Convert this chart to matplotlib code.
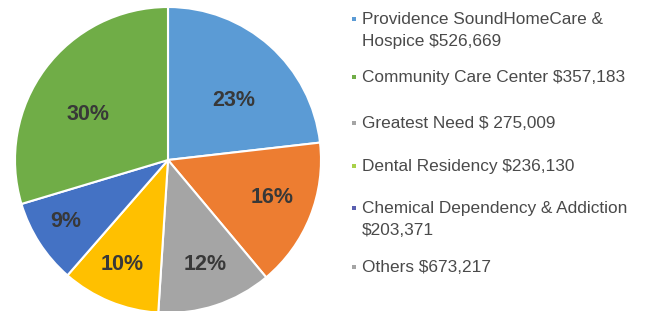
import matplotlib
matplotlib.use("Agg")
import numpy as np
import matplotlib.pyplot as plt
from matplotlib.patches import Rectangle

categories = ["Providence SoundHomeCare &\nHospice $526,669",
              "Community Care Center $357,183",
              "Greatest Need $ 275,009",
              "Dental Residency $236,130",
              "Chemical Dependency & Addiction\n$203,371",
              "Others $673,217"]
values = [526669, 357183, 275009, 236130, 203371, 673217]
slice_colors = ["#5B9BD5", "#ED7D31", "#A5A5A5", "#FFC000", "#4472C4", "#70AD47"]
marker_colors = ["#5B9BD5", "#70AD47", "#A5A5A5", "#A9D14A", "#5A5FB0", "#A5A5A5"]
# label placement (layout): distance from centre (radius units), angle offset (deg)
label_dist = [0.59, 0.72, 0.71, 0.73, 0.77, 0.61]
label_dang = [-5.0, 3.0, 2.0, -1.6, -3.0, 5.7]

W, H = 647, 311
fig = plt.figure(figsize=(W / 100, H / 100), dpi=100)
plt.rcParams['font.family'] = ['Liberation Sans', 'DejaVu Sans']

cx, cy, r = 168, 160, 153
ax = fig.add_axes([(cx - r) / W, (H - cy - r) / H, 2 * r / W, 2 * r / H])
wedges, texts, autotexts = ax.pie(
    values, colors=slice_colors, startangle=90, counterclock=False,
    autopct=lambda p: f"{p:.0f}%", pctdistance=0.6,
    wedgeprops=dict(edgecolor="white", linewidth=1.5),
    textprops=dict(color="#383838", fontsize=15.5, fontweight="bold"))
for w, t, d, da in zip(wedges, autotexts, label_dist, label_dang):
    th = np.deg2rad((w.theta1 + w.theta2) / 2 + da)
    t.set_position((d * np.cos(th), d * np.sin(th)))
    t.set_va("center_baseline")
ax.set_xlim(-1, 1)
ax.set_ylim(-1, 1)
ax.set_aspect("equal")
ax.axis("off")

# legend drawn manually
ys = [20, 78, 124, 167, 209, 268]
for lab, col, y in zip(categories, marker_colors, ys):
    fig.text(362 / W, 1 - (y - 8) / H, lab, fontsize=12.4, color="#4a4a4a",
             va="top", ha="left", linespacing=1.55)
    fig.patches.append(Rectangle((352 / W, 1 - (y + 1) / H), 4 / W, 4 / H,
                                 transform=fig.transFigure, facecolor=col,
                                 edgecolor="none"))

fig.savefig("out.png", dpi=100)
